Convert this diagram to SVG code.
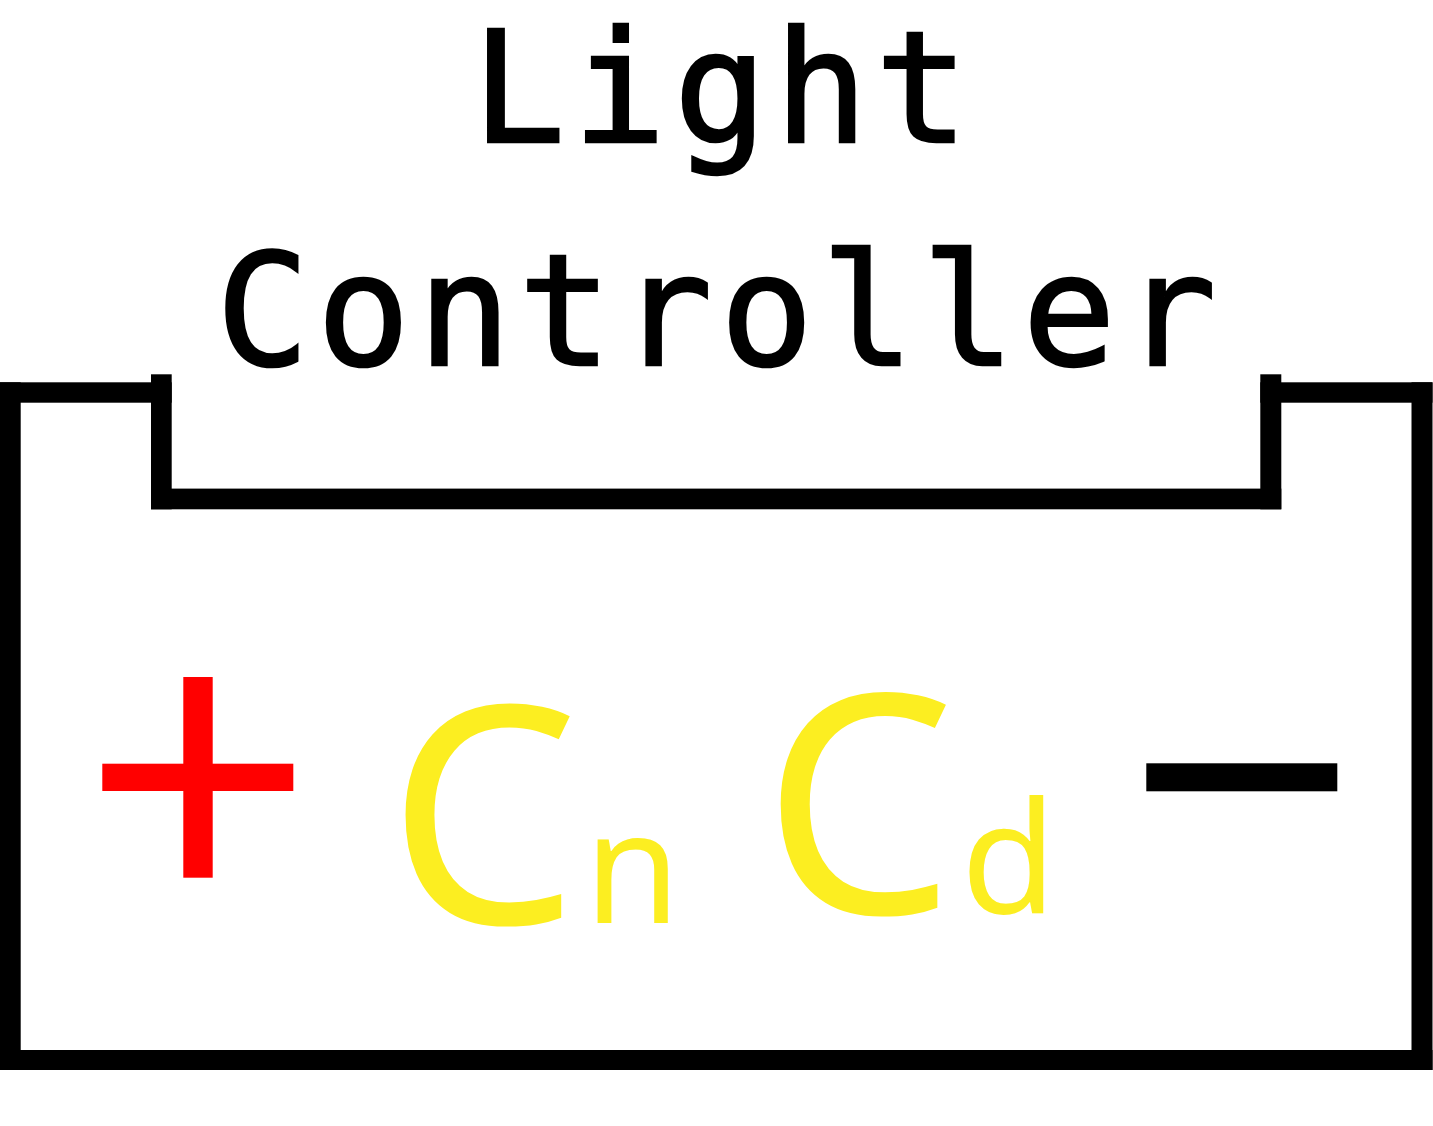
<svg xmlns="http://www.w3.org/2000/svg" width="1433" height="1126" viewBox="0 0 1433 1126">
<style>
.bar{fill:#000000}
.title{font-family:"DejaVu Sans Mono","Liberation Mono",monospace;font-size:155px;fill:#000000;stroke:#000000;stroke-width:2.5px;letter-spacing:7.5px}
.cap{font-family:"Noto Sans","Open Sans",sans-serif;fill:#FCEE21}
</style>
<rect width="1433" height="1126" fill="#ffffff"/>
<g id="title">
<text class="title" x="472" y="142">Light</text>
<text class="title" x="216" y="365">Controller</text>
</g>
<g id="battery">
<rect class="bar" x="0" y="382.3" width="171.7" height="20.4"/>
<rect class="bar" x="0" y="382.3" width="20.7" height="687.7"/>
<rect class="bar" x="151" y="374.3" width="20.7" height="135"/>
<rect class="bar" x="151" y="488.6" width="1130.3" height="20.7"/>
<rect class="bar" x="1260.3" y="374.3" width="21" height="135"/>
<rect class="bar" x="1260.3" y="382.3" width="172.2" height="20.4"/>
<rect class="bar" x="1411.5" y="382.3" width="21" height="687.7"/>
<rect class="bar" x="0" y="1050" width="1432.5" height="20"/>
</g>
<g id="plus">
<rect x="183.3" y="677" width="29.4" height="200.7" fill="#FF0000"/>
<rect x="102.3" y="763.7" width="191" height="27.3" fill="#FF0000"/>
</g>
<g id="minus">
<rect x="1146.3" y="763.3" width="191" height="28" fill="#000000"/>
</g>
<g id="label">
<text class="cap" x="387" y="923.5" font-size="304">C</text>
<text class="cap" x="584.5" y="923" font-size="155">n</text>
<text class="cap" x="762" y="913.5" font-size="306">C</text>
<text class="cap" x="961" y="913" font-size="155">d</text>
</g>
</svg>
